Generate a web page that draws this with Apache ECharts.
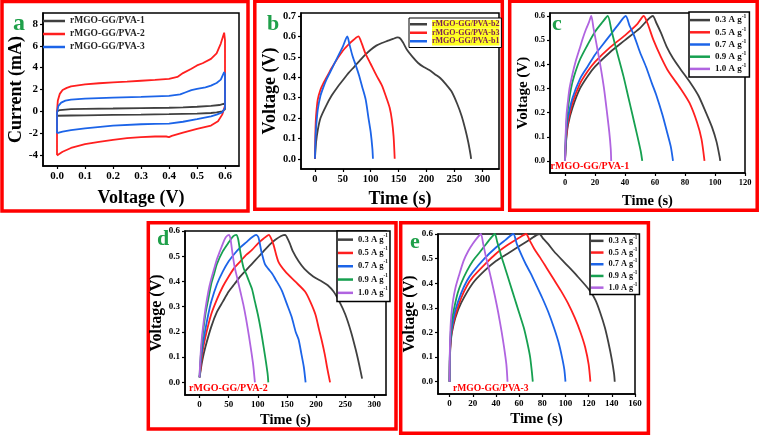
<!DOCTYPE html>
<html><head><meta charset="utf-8">
<script src="https://cdn.jsdelivr.net/npm/echarts@6/dist/echarts.min.js"></script>
<style>html,body{margin:0;padding:0;background:#fff}#c{width:760px;height:437px}</style>
</head><body><div id="c"></div>
<script>
// ---------- Panel a: CV (Voltage V, Current mA) ----------
const aPVA1 = [[0,-0.4],[0,0],[0.01,0.12],[0.05,0.2],[0.1,0.23],[0.2,0.26],[0.3,0.3],[0.4,0.33],[0.45,0.37],[0.5,0.42],[0.55,0.5],[0.58,0.58],[0.6,0.72],[0.6,0.2],[0.59,0.0],[0.57,-0.1],[0.55,-0.15],[0.5,-0.2],[0.4,-0.26],[0.3,-0.3],[0.2,-0.33],[0.1,-0.36],[0.05,-0.38],[0,-0.4]];
const aPVA2 = [[0,-4.0],[0,0],[0.003,1.0],[0.01,1.6],[0.02,1.95],[0.035,2.15],[0.05,2.28],[0.1,2.46],[0.15,2.57],[0.2,2.65],[0.25,2.72],[0.3,2.8],[0.35,2.88],[0.4,2.98],[0.43,3.15],[0.45,3.5],[0.48,3.9],[0.5,4.2],[0.52,4.4],[0.55,4.8],[0.57,5.3],[0.585,6.2],[0.597,7.2],[0.6,6.5],[0.6,0.5],[0.59,-0.3],[0.575,-0.9],[0.55,-1.3],[0.5,-1.6],[0.45,-1.95],[0.41,-2.25],[0.4,-2.35],[0.39,-2.3],[0.35,-2.3],[0.3,-2.35],[0.25,-2.45],[0.2,-2.6],[0.15,-2.8],[0.1,-3.0],[0.05,-3.35],[0.02,-3.7],[0.005,-3.95],[0,-4.05]];
const aPVA3 = [[0,-2.0],[0,-0.1],[0.005,0.5],[0.015,0.8],[0.03,0.98],[0.05,1.08],[0.1,1.17],[0.2,1.25],[0.3,1.32],[0.4,1.42],[0.44,1.55],[0.46,1.75],[0.48,1.95],[0.5,2.05],[0.53,2.2],[0.55,2.35],[0.57,2.6],[0.585,2.9],[0.597,3.6],[0.6,3.4],[0.6,0.3],[0.59,-0.1],[0.57,-0.3],[0.55,-0.45],[0.5,-0.72],[0.45,-0.95],[0.4,-1.12],[0.35,-1.15],[0.3,-1.18],[0.2,-1.3],[0.1,-1.55],[0.05,-1.72],[0.02,-1.85],[0,-2.0]];
const aNames = ['rMGO-GG/PVA-1','rMGO-GG/PVA-2','rMGO-GG/PVA-3'];
const aXTicks = [0,0.1,0.2,0.3,0.4,0.5,0.6];
const aYTicks = [-4,-2,0,2,4,6,8];

// ---------- Panel b: GCD (Time s, Voltage V) ----------
const bB2 = [[0,0],[2,0.08],[5,0.14],[10,0.2],[20,0.26],[30,0.31],[40,0.35],[50,0.385],[60,0.42],[70,0.45],[80,0.48],[90,0.51],[100,0.535],[110,0.555],[120,0.568],[130,0.578],[140,0.588],[148,0.595],[153,0.59],[158,0.57],[165,0.535],[175,0.5],[185,0.47],[195,0.45],[205,0.435],[215,0.415],[225,0.395],[235,0.365],[245,0.33],[255,0.27],[263,0.21],[270,0.14],[275,0.08],[279,0.02],[280,0]];
const bB3 = [[0,0],[1,0.15],[2,0.21],[5,0.29],[10,0.34],[15,0.37],[20,0.395],[25,0.42],[30,0.445],[40,0.49],[50,0.53],[60,0.56],[70,0.585],[78,0.6],[82,0.58],[86,0.55],[90,0.52],[100,0.465],[110,0.41],[120,0.36],[128,0.3],[134,0.25],[138,0.19],[141,0.11],[143,0]];
const bB1 = [[0,0],[1,0.1],[2,0.15],[5,0.24],[10,0.31],[15,0.35],[20,0.385],[30,0.44],[40,0.495],[50,0.55],[58,0.6],[62,0.56],[67,0.508],[73,0.46],[79,0.41],[85,0.35],[91,0.29],[96,0.2],[100,0.13],[103,0.05],[104,0]];
const bNames = ['rMGO-GG/PVA-b2','rMGO-GG/PVA-b3','rMGO-GG/PVA-b1'];
const bXTicks = [0,50,100,150,200,250,300];
const bYTicks = [0,0.1,0.2,0.3,0.4,0.5,0.6,0.7];

// ---------- Panel c: rMGO-GG/PVA-1 ----------
const c03 = [[0,0],[0.5,0.06],[1,0.1],[2,0.15],[5,0.22],[10,0.3],[15,0.35],[20,0.39],[30,0.45],[40,0.5],[50,0.55],[58.5,0.6],[61,0.57],[64,0.53],[68,0.47],[72,0.425],[77,0.38],[84,0.32],[89,0.27],[94,0.2],[98,0.14],[101,0.08],[103,0.02],[103.5,0]];
const c05 = [[0,0],[0.5,0.07],[1,0.11],[2,0.16],[5,0.24],[10,0.32],[15,0.37],[20,0.41],[30,0.47],[40,0.52],[48,0.565],[52.5,0.6],[55,0.57],[59,0.5],[64,0.43],[69,0.37],[77,0.3],[83,0.24],[88,0.16],[91,0.09],[93,0]];
const c07 = [[0,0],[0.5,0.08],[1,0.13],[2,0.18],[5,0.26],[10,0.34],[15,0.39],[20,0.44],[25,0.48],[30,0.52],[35,0.56],[40.5,0.6],[43,0.56],[46,0.52],[50,0.45],[54,0.39],[58,0.32],[61,0.27],[65,0.19],[68,0.12],[70.5,0.06],[72,0]];
const c09 = [[0,0],[0.5,0.1],[1,0.16],[2,0.22],[4,0.3],[6,0.35],[10,0.42],[15,0.48],[20,0.535],[25,0.575],[28.5,0.6],[31,0.54],[33,0.49],[36,0.42],[39,0.35],[42,0.27],[45,0.19],[48,0.11],[50.5,0.04],[51.5,0]];
const c10 = [[0,0],[0.5,0.12],[1,0.19],[2,0.25],[3,0.3],[5,0.36],[7,0.41],[10,0.47],[12,0.51],[14,0.545],[16,0.575],[17.5,0.6],[19,0.55],[20.5,0.5],[22,0.45],[24,0.38],[26,0.3],[28,0.2],[29.5,0.12],[30.5,0.05],[30.8,0]];
const cXTicks = [0,20,40,60,80,100,120];

// ---------- Panel d: rMGO-GG/PVA-2 ----------
const d03 = [[0,0.02],[2,0.05],[5,0.09],[10,0.14],[20,0.22],[30,0.28],[40,0.32],[50,0.36],[60,0.39],[70,0.42],[80,0.445],[90,0.47],[100,0.495],[110,0.52],[120,0.545],[130,0.565],[140,0.58],[147,0.585],[150,0.575],[155,0.55],[160,0.52],[170,0.48],[180,0.45],[195,0.42],[210,0.4],[220,0.385],[230,0.36],[240,0.32],[250,0.27],[260,0.2],[268,0.13],[274,0.07],[279,0.015]];
const d05 = [[0,0.02],[2,0.06],[5,0.12],[10,0.18],[20,0.27],[30,0.33],[40,0.38],[50,0.42],[60,0.455],[70,0.48],[80,0.505],[90,0.525],[100,0.55],[110,0.57],[119,0.585],[123,0.57],[127,0.545],[135,0.48],[147,0.44],[164,0.4],[181,0.36],[190,0.32],[199,0.268],[205,0.21],[210,0.163],[215,0.11],[219,0.058],[224,0]];
const d07 = [[0,0.02],[2,0.08],[5,0.14],[10,0.21],[15,0.27],[20,0.32],[30,0.39],[40,0.44],[50,0.48],[60,0.51],[70,0.535],[80,0.555],[90,0.575],[97,0.585],[101,0.575],[106,0.52],[112,0.47],[118,0.45],[125,0.43],[130,0.41],[141,0.365],[150,0.31],[158,0.26],[165,0.2],[170,0.17],[175,0.11],[179,0.06],[182,0]];
const d09 = [[0,0.02],[1,0.07],[3,0.13],[5,0.18],[10,0.27],[15,0.33],[20,0.39],[25,0.43],[30,0.47],[40,0.52],[50,0.555],[58,0.58],[63,0.585],[66,0.57],[69,0.53],[72,0.49],[76,0.45],[80,0.43],[85,0.4],[90,0.37],[95,0.32],[100,0.27],[105,0.21],[110,0.14],[114,0.08],[117,0.03],[118,0]];
const d10 = [[0,0.02],[1,0.08],[3,0.15],[5,0.2],[10,0.29],[15,0.36],[20,0.41],[25,0.45],[30,0.49],[35,0.52],[40,0.55],[45,0.575],[50.5,0.585],[53,0.57],[56,0.52],[60,0.46],[65,0.41],[70,0.36],[75,0.31],[80,0.25],[85,0.18],[89,0.12],[92,0.07],[95,0]];
const dXTicks = [0,50,100,150,200,250,300];

// ---------- Panel e: rMGO-GG/PVA-3 ----------
const e03 = [[0,0],[0.3,0.1],[1,0.16],[2,0.2],[5,0.26],[10,0.32],[20,0.4],[30,0.45],[40,0.49],[50,0.52],[60,0.55],[70,0.58],[77.5,0.6],[81,0.58],[85,0.56],[90,0.53],[100,0.48],[110,0.43],[121,0.37],[126,0.33],[130,0.28],[134,0.22],[137,0.16],[140,0.09],[142,0.03],[142.5,0]];
const e05 = [[0,0],[0.3,0.11],[1,0.17],[2,0.21],[5,0.27],[10,0.34],[15,0.39],[20,0.425],[30,0.475],[40,0.52],[50,0.555],[60,0.585],[66,0.6],[69,0.575],[73,0.54],[78,0.505],[84,0.46],[90,0.415],[96,0.37],[102,0.32],[108,0.26],[113,0.2],[117,0.14],[120,0.07],[121.5,0]];
const e07 = [[0,0],[0.3,0.12],[1,0.18],[2,0.22],[5,0.29],[10,0.36],[15,0.41],[20,0.445],[30,0.5],[40,0.545],[48,0.575],[55,0.6],[58,0.56],[62,0.515],[66,0.475],[70,0.44],[75,0.39],[80,0.34],[85,0.285],[90,0.22],[94,0.16],[97,0.1],[99,0.05],[100,0]];
const e09 = [[0,0],[0.3,0.13],[1,0.2],[2,0.25],[4,0.3],[7,0.36],[10,0.4],[15,0.45],[20,0.49],[25,0.52],[30,0.55],[35,0.58],[39,0.6],[41,0.57],[44,0.52],[48,0.46],[52,0.4],[56,0.34],[60,0.28],[64,0.22],[67,0.16],[69.5,0.1],[71,0.04],[71.8,0]];
const e10 = [[0,0],[0.3,0.15],[0.8,0.22],[1.5,0.27],[3,0.33],[5,0.38],[8,0.43],[12,0.49],[16,0.53],[20,0.56],[24,0.585],[27,0.6],[29,0.56],[31,0.515],[33,0.475],[36,0.415],[39,0.35],[42,0.28],[45,0.2],[47,0.14],[49,0.07],[50,0]];
const eXTicks = [0,20,40,60,80,100,120,140,160];

const rateNames = ['0.3 A g-1','0.5 A g-1','0.7 A g-1','0.9 A g-1','1.0 A g-1'];
const gcdYTicks = [0,0.1,0.2,0.3,0.4,0.5,0.6];

// ---------- styling ----------
const FONT = "'Liberation Serif','Times New Roman',serif";
const COL = {gray:'#404040', red:'#ff1f1f', blue:'#1c64e8', green:'#16a050', purple:'#b064e0'};
const rateColors = [COL.gray, COL.red, COL.blue, COL.green, COL.purple];

function xAx(gi, min, max, ticks, fmt, fs, name, nfs, gap){
  return {type:'value', gridIndex:gi, min:min, max:max,
    axisLine:{show:true, onZero:false, lineStyle:{color:'#000', width:1.5}},
    axisTick:{show:true, inside:false, length:3, customValues:ticks, lineStyle:{color:'#000', width:1.2}},
    axisLabel:{customValues:ticks, formatter:fmt, fontFamily:FONT, fontWeight:'bold', fontSize:fs, color:'#000', margin:5},
    splitLine:{show:false},
    name:name, nameLocation:'middle', nameGap:gap,
    nameTextStyle:{fontFamily:FONT, fontWeight:'bold', fontSize:nfs, color:'#000'}};
}
function yAx(gi, min, max, ticks, fmt, fs, name, nfs, gap){
  const a = xAx(gi, min, max, ticks, fmt, fs, name, nfs, gap);
  a.axisLabel.margin = 5;
  return a;
}
const f1 = v => v.toFixed(1);
const f0 = v => String(Math.round(v));

const grids = [
  {left:43, top:13, width:196, height:153},
  {left:301, top:13, width:198, height:156},
  {left:550, top:13, width:195, height:160},
  {left:185, top:231, width:201, height:164},
  {left:438, top:234, width:197, height:160}
].map(g => Object.assign(g, {show:true, borderColor:'#000', borderWidth:1.5, backgroundColor:'transparent'}));

const xAxes = [
  xAx(0, -0.05, 0.65, aXTicks, f1, 11, 'Voltage (V)', 18, 23),
  xAx(1, -25, 330, bXTicks, f0, 10.5, 'Time (s)', 18, 21),
  xAx(2, -10, 120, cXTicks, f0, 8.5, 'Time (s)', 14.5, 21),
  xAx(3, -25, 320, dXTicks, f0, 9, 'Time (s)', 14.5, 18),
  xAx(4, -10, 160, eXTicks, f0, 9, 'Time (s)', 15, 18)
];
const yAxes = [
  yAx(0, -5, 9, aYTicks, f0, 11, 'Current (mA)', 18, 17),
  yAx(1, -0.05, 0.715, bYTicks, f1, 10.5, 'Voltage (V)', 18, 19),
  yAx(2, -0.05, 0.6125, gcdYTicks, f1, 8.5, 'Voltage (V)', 15, 18),
  yAx(3, -0.05, 0.6, gcdYTicks, f1, 9, 'Voltage (V)', 16, 15),
  yAx(4, -0.05, 0.6, gcdYTicks, f1, 9, 'Voltage (V)', 16, 14)
];

function line(name, data, color, gi, smooth){
  return {type:'line', name:name, data:data, xAxisIndex:gi, yAxisIndex:gi,
    showSymbol:false, symbol:'none', smooth:smooth, lineStyle:{color:color, width:1.8},
    itemStyle:{color:color}, animation:false, z:3};
}
const series = [];
[aPVA1, aPVA2, aPVA3].forEach((d,i)=>series.push(line('a|'+aNames[i], d, [COL.gray,COL.red,COL.blue][i], 0, false)));
[bB2, bB3, bB1].forEach((d,i)=>series.push(line('b|'+bNames[i], d, [COL.gray,COL.red,COL.blue][i], 1, 0.25)));
[c03,c05,c07,c09,c10].forEach((d,i)=>series.push(line('c|'+rateNames[i], d, rateColors[i], 2, 0.25)));
[d03,d05,d07,d09,d10].forEach((d,i)=>series.push(line('d|'+rateNames[i], d, rateColors[i], 3, 0.25)));
[e03,e05,e07,e09,e10].forEach((d,i)=>series.push(line('e|'+rateNames[i], d, rateColors[i], 4, 0.25)));

const stripFmt = n => {
  const s = n.split('|')[1];
  return s.indexOf(' A g-1') >= 0 ? s.replace(' A g-1', ' A g{sup|-1}') : s;
};
function rateLegend(p, left, top, lh, iw, fs, pad){
  return {orient:'vertical', left:left, top:top, icon:'rect', itemWidth:iw, itemHeight:2.5, itemGap:0,
    padding:pad, borderColor:'#000', borderWidth:1.5, backgroundColor:'#fff', selectedMode:false,
    data: rateNames.map(n=>p+'|'+n), formatter: stripFmt,
    textStyle:{fontFamily:FONT, fontWeight:'bold', fontSize:fs, color:'#111', lineHeight:lh,
      rich:{sup:{fontFamily:FONT, fontWeight:'bold', fontSize:fs*0.62, verticalAlign:'top', lineHeight:lh, color:'#111'}}}};
}
const legends = [
  {orient:'vertical', left:43, top:14.5, icon:'rect', itemWidth:22, itemHeight:2.5, itemGap:0, padding:0, selectedMode:false,
   data:aNames.map(n=>'a|'+n), formatter:stripFmt,
   textStyle:{fontFamily:FONT, fontWeight:'bold', fontSize:9.5, color:'#222', lineHeight:13}},
  {orient:'vertical', left:409, top:18, icon:'rect', itemWidth:17, itemHeight:2.5, itemGap:0, padding:[2,2,2,1],
   borderColor:'#000', borderWidth:1, backgroundColor:'#fff', selectedMode:false,
   data:bNames.map(n=>'b|'+n), formatter:stripFmt,
   textStyle:{fontFamily:FONT, fontWeight:'bold', fontSize:8, color:'#7a1f55', lineHeight:8.5, backgroundColor:'#ffff22'}},
  rateLegend('c', 689, 12, 12.2, 20, 9, [2,3,2,1]),
  rateLegend('d', 337, 231, 13.3, 15, 8.6, [2,2,2,1]),
  rateLegend('e', 590, 234, 11.7, 12.5, 8.3, [1,2,1,1])
];

const RED = '#ff0000', GREEN = '#1fa04a';
const graphics = [
  {type:'rect', shape:{x:2, y:1.5, width:246, height:209.5}, style:{fill:'none', stroke:RED, lineWidth:3.5}},
  {type:'rect', shape:{x:254.8, y:1.3, width:247.5, height:208}, style:{fill:'none', stroke:RED, lineWidth:3.5}},
  {type:'rect', shape:{x:509.7, y:1.3, width:247.5, height:209}, style:{fill:'none', stroke:RED, lineWidth:3.5}},
  {type:'rect', shape:{x:148.3, y:222.7, width:247.7, height:206.3}, style:{fill:'none', stroke:RED, lineWidth:3.5}},
  {type:'rect', shape:{x:400.7, y:222.7, width:247.7, height:210.6}, style:{fill:'none', stroke:RED, lineWidth:3.5}},
  {type:'text', x:13, y:24, style:{text:'a', font:"bold 24px "+FONT, fill:GREEN, verticalAlign:'middle'}},
  {type:'text', x:267, y:24, style:{text:'b', font:"bold 22px "+FONT, fill:GREEN, verticalAlign:'middle'}},
  {type:'text', x:552, y:24.6, style:{text:'c', font:"bold 22px "+FONT, fill:GREEN, verticalAlign:'middle'}},
  {type:'text', x:157, y:239.6, style:{text:'d', font:"bold 22px "+FONT, fill:GREEN, verticalAlign:'middle'}},
  {type:'text', x:410, y:242.6, style:{text:'e', font:"bold 22px "+FONT, fill:GREEN, verticalAlign:'middle'}},
  {type:'text', x:550.5, y:166.5, style:{text:'rMGO-GG/PVA-1', font:"bold 10px "+FONT, fill:RED, verticalAlign:'middle'}},
  {type:'text', x:189, y:388.3, style:{text:'rMGO-GG/PVA-2', font:"bold 10px "+FONT, fill:RED, verticalAlign:'middle'}},
  {type:'text', x:453, y:388.7, style:{text:'rMGO-GG/PVA-3', font:"bold 9.6px "+FONT, fill:RED, verticalAlign:'middle'}}
];

const chart = echarts.init(document.getElementById('c'), null, {renderer:'canvas'});
chart.setOption({
  backgroundColor:'#fff', animation:false,
  grid:grids, xAxis:xAxes, yAxis:yAxes, legend:legends, series:series,
  graphic:{elements:graphics}
});
</script></body></html>
